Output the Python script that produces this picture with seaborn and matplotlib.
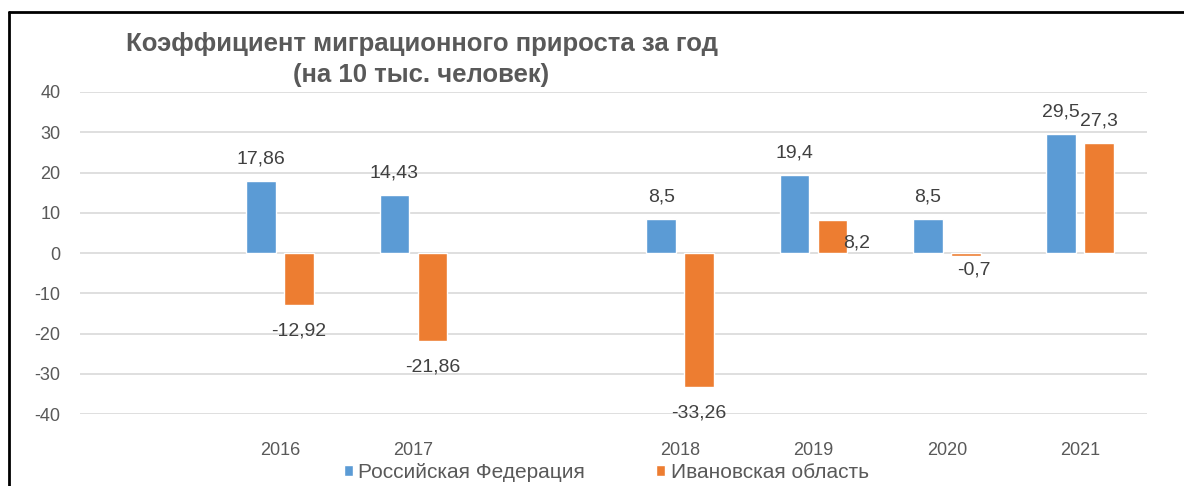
import pandas as pd
import matplotlib.pyplot as plt
from matplotlib.lines import Line2D
import seaborn as sns

years = ['2016', '2017', '2018', '2019', '2020', '2021']
russia = [17.86, 14.43, 8.5, 19.4, 8.5, 29.5]
ivanovo = [-12.92, -21.86, -33.26, 8.2, -0.7, 27.3]
series_names = ['Российская Федерация', 'Ивановская область']
# empty slots keep the gaps seen on the category axis
order = [' ', '2016', '2017', '  ', '2018', '2019', '2020', '2021']

BLUE = '#5B9BD5'
ORANGE = '#ED7D31'
GREY = '#595959'


def fmt(v):
    return f'{v:g}'.replace('.', ',')


def main():
    sns.set_theme(style='white')
    plt.rcParams['font.family'] = ['Liberation Sans', 'DejaVu Sans']
    plt.rcParams['axes.unicode_minus'] = False

    df = pd.DataFrame({
        'year': years * 2,
        'value': russia + ivanovo,
        'region': [series_names[0]] * len(years) + [series_names[1]] * len(years),
    })

    fig = plt.figure(figsize=(11.84, 4.86), dpi=100)
    ax = fig.add_axes([0.0676, 0.1481, 0.9011, 0.6626])

    sns.barplot(data=df, x='year', y='value', hue='region', order=order,
                hue_order=series_names, palette=[BLUE, ORANGE],
                width=0.57, gap=0.22, saturation=1, ax=ax, errorbar=None,
                zorder=3)

    ax.set_ylim(-40, 40)
    ax.set_xlim(-0.5, len(order) - 0.5)
    ax.set_yticks(range(-40, 41, 10))
    ax.yaxis.grid(True, color='#D9D9D9', linewidth=1.2, zorder=0)
    ax.set_axisbelow(True)
    for s in ax.spines.values():
        s.set_visible(False)
    ax.set_xlabel('')
    ax.set_ylabel('')
    ax.tick_params(axis='y', length=0, pad=14, labelsize=13, labelcolor=GREY)
    ax.tick_params(axis='x', length=0, pad=20, labelsize=13, labelcolor=GREY)

    # data labels, a few were moved by hand in the original
    special = {(1, '2019'): (24, -23), (1, '2020'): (8, -14)}
    values = [russia, ivanovo]
    for i, cont in enumerate(ax.containers):
        for bar, yr, v in zip(cont.patches, years, values[i]):
            xc = bar.get_x() + bar.get_width() / 2
            if v >= 0:
                off = (0, 22)
            else:
                off = (0, -26)
            off = special.get((i, yr), off)
            ax.annotate(fmt(v), (xc, v), xytext=off, textcoords='offset pixels',
                        ha='center', va='center', fontsize=14, color='#404040')

    sns.move_legend(ax, loc='center', bbox_to_anchor=(0.512, 0.028),
                    bbox_transform=fig.transFigure, ncol=2, frameon=False,
                    title=None, fontsize=15, handlelength=0.45, handleheight=0.45,
                    handletextpad=0.25, columnspacing=3.4, borderpad=0.1)
    for t in ax.get_legend().get_texts():
        t.set_color(GREY)

    fig.text(0.356, 0.877, 'Коэффициент миграционного прироста за год\n(на 10 тыс. человек)',
             ha='center', va='center', fontsize=18.5, fontweight='bold',
             color=GREY, linespacing=1.35)

    # frame of the original chart box
    fig.add_artist(Line2D([0.0078, 0.0078], [0, 0.975], color='black', linewidth=2,
                          transform=fig.transFigure))
    fig.add_artist(Line2D([0.0078, 1], [0.975, 0.975], color='black', linewidth=2,
                          transform=fig.transFigure))

    fig.savefig('out.png', dpi=100)


if __name__ == '__main__':
    main()
